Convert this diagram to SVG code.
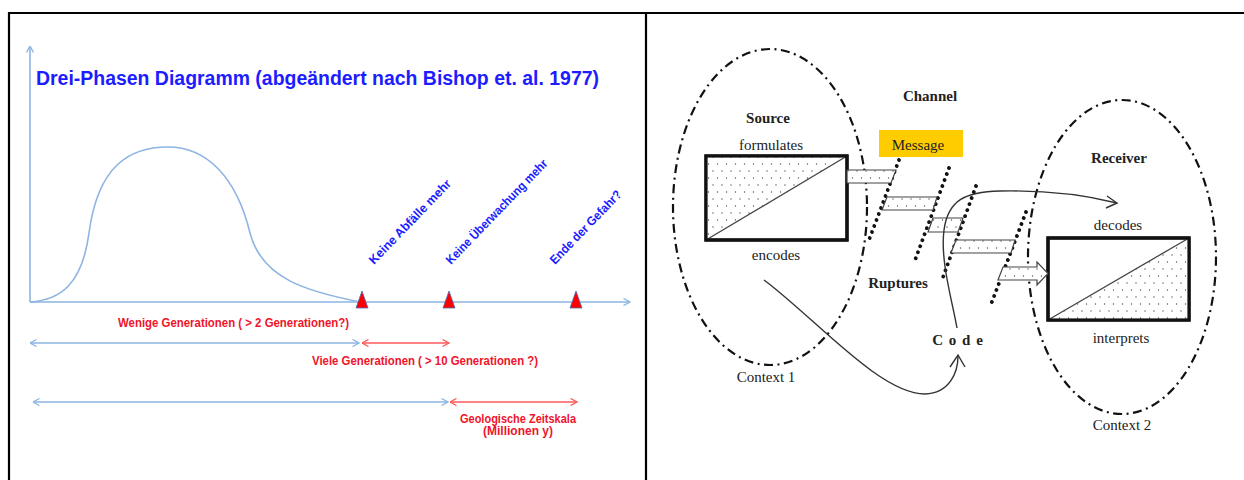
<svg xmlns="http://www.w3.org/2000/svg" width="1244" height="480" viewBox="0 0 1244 480">
<style>
.frame{stroke:#000;stroke-width:2.2;fill:none}
.ax{stroke:#8db4e2;stroke-width:1.6;fill:none}
.rd{stroke:#ff5a5a;stroke-width:1.4;fill:none}
.cal{font-family:"Liberation Sans",Arial,sans-serif;font-weight:bold}
.blue{fill:#1c1cff}
.red{fill:#f0142a}
.tm{font-family:"Liberation Serif","Times New Roman",serif;fill:#222;font-size:15px}
.tb{font-weight:bold}
.ell{stroke:#111;stroke-width:2.2;fill:none;stroke-dasharray:9 4.5 2 4.5}
.box{stroke:#111;stroke-width:3.2;fill:#fff}
.diag{stroke:#444;stroke-width:1.3}
.bar{stroke:#444;stroke-width:1.2;fill:url(#dots)}
.rup{stroke:#111;stroke-width:3.8;stroke-linecap:round;stroke-dasharray:0.01 6.4;fill:none}
.cv{stroke:#333;stroke-width:1.4;fill:none}
.tri{fill:#ff0000;stroke:#4a6fb5;stroke-width:0.8}
</style>
<defs>
<pattern id="dots" width="9" height="14" patternUnits="userSpaceOnUse">
<rect width="9" height="14" fill="#fff"/>
<circle cx="2" cy="3" r="0.7" fill="#555"/>
<circle cx="6.5" cy="10" r="0.7" fill="#555"/>
</pattern>
<marker id="ab" viewBox="0 0 8 8" refX="7.5" refY="4" markerWidth="8" markerHeight="8" markerUnits="userSpaceOnUse" orient="auto-start-reverse">
<path d="M1,0.5 L7.5,4 L1,7.5" fill="none" stroke="#8db4e2" stroke-width="1.3"/>
</marker>
<marker id="ar" viewBox="0 0 8 8" refX="7.5" refY="4" markerWidth="8" markerHeight="8" markerUnits="userSpaceOnUse" orient="auto-start-reverse">
<path d="M1,0.5 L7.5,4 L1,7.5" fill="none" stroke="#ff5a5a" stroke-width="1.3"/>
</marker>
</defs>
<rect width="1244" height="480" fill="#fff"/>
<g id="frame">
<path class="frame" d="M9,480 V13 H1244 M646,13 V480"/>
</g>

<g id="left-panel">
<g id="axes">
<line class="ax" x1="30" y1="302" x2="30" y2="46" marker-end="url(#ab)"/>
<line class="ax" x1="30" y1="302" x2="630" y2="302" marker-end="url(#ab)"/>
</g>
<text id="title" class="cal blue" x="36" y="85" font-size="19.5" textLength="563" lengthAdjust="spacingAndGlyphs">Drei-Phasen Diagramm (abgeändert nach Bishop et. al. 1977)</text>
<path id="curve" class="ax" d="M30,302 C60,300 82,285 89,233 C98,165 130,147 168,147 C205,147 236,175 250,233 C262,280 310,292 360,302"/>
<g id="markers">
<polygon class="tri" points="356,308 362,291 368,308"/>
<polygon class="tri" points="443,308 449,291 455,308"/>
<polygon class="tri" points="570,308 576,291 582,308"/>
</g>
<g id="milestones" class="cal blue" font-size="12.5">
<text transform="translate(374,265) rotate(-46)" textLength="112" lengthAdjust="spacingAndGlyphs">Keine Abfälle mehr</text>
<text transform="translate(451,265) rotate(-46)" textLength="140" lengthAdjust="spacingAndGlyphs">Keine Überwachung mehr</text>
<text transform="translate(555,265) rotate(-46)" textLength="97" lengthAdjust="spacingAndGlyphs">Ende der Gefahr?</text>
</g>
<g id="spans">
<line class="ax" stroke-width="1.3" x1="30" y1="343" x2="359" y2="343" marker-start="url(#ab)" marker-end="url(#ab)"/>
<line class="rd" x1="362" y1="343" x2="449" y2="343" marker-start="url(#ar)" marker-end="url(#ar)"/>
<line class="ax" stroke-width="1.3" x1="33" y1="402" x2="448" y2="402" marker-start="url(#ab)" marker-end="url(#ab)"/>
<line class="rd" x1="450" y1="402" x2="577" y2="402" marker-start="url(#ar)" marker-end="url(#ar)"/>
</g>
<g id="span-labels" class="cal red" font-size="12.5">
<text x="118" y="327" textLength="231" lengthAdjust="spacingAndGlyphs">Wenige Generationen ( &gt; 2 Generationen?)</text>
<text x="312" y="365" textLength="226" lengthAdjust="spacingAndGlyphs">Viele Generationen ( &gt; 10 Generationen ?)</text>
<text x="518" y="423" text-anchor="middle" textLength="116" lengthAdjust="spacingAndGlyphs">Geologische Zeitskala</text>
<text x="518" y="435" text-anchor="middle" textLength="70" lengthAdjust="spacingAndGlyphs">(Millionen y)</text>
</g>
</g>

<g id="right-panel">
<g id="context1">
<ellipse class="ell" cx="770" cy="207" rx="97" ry="158"/>
<text class="tm" x="766" y="382" text-anchor="middle" font-size="14.5">Context 1</text>
</g>
<g id="context2">
<ellipse class="ell" cx="1122" cy="257" rx="94" ry="157"/>
<text class="tm" x="1122" y="430" text-anchor="middle" font-size="14.5">Context 2</text>
</g>
<g id="source">
<rect class="box" x="706" y="156" width="141" height="84"/>
<polygon points="706,156 847,156 706,240" fill="url(#dots)"/>
<line class="diag" x1="706" y1="240" x2="847" y2="156"/>
<rect x="706" y="156" width="141" height="84" fill="none" stroke="#111" stroke-width="3.2"/>
<text class="tm tb" x="768" y="123" text-anchor="middle">Source</text>
<text class="tm" x="771" y="150" text-anchor="middle">formulates</text>
<text class="tm" x="776" y="260" text-anchor="middle">encodes</text>
</g>
<g id="channel">
<text class="tm tb" x="930" y="101" text-anchor="middle">Channel</text>
</g>
<g id="message">
<rect x="879" y="130" width="84" height="27" fill="#ffcc00"/>
<text class="tm" x="918" y="150" text-anchor="middle">Message</text>
</g>
<g id="receiver">
<rect class="box" x="1048" y="238" width="141" height="82"/>
<polygon points="1189,238 1189,320 1048,320" fill="url(#dots)"/>
<line class="diag" x1="1048" y1="320" x2="1189" y2="238"/>
<rect x="1048" y="238" width="141" height="82" fill="none" stroke="#111" stroke-width="3.2"/>
<text class="tm tb" x="1119" y="163" text-anchor="middle">Receiver</text>
<text class="tm" x="1118" y="230" text-anchor="middle">decodes</text>
<text class="tm" x="1121" y="343" text-anchor="middle">interprets</text>
</g>
<g id="ruptures">
<line class="rup" x1="899" y1="160" x2="869" y2="240"/>
<line class="rup" x1="949" y1="168" x2="914" y2="263"/>
<line class="rup" x1="976" y1="186" x2="942" y2="280"/>
<line class="rup" x1="1026" y1="212" x2="990" y2="307"/>
<text class="tm tb" x="898" y="288" text-anchor="middle" font-size="15.5">Ruptures</text>
</g>
<g id="code">
<text class="tm tb" x="958" y="345" text-anchor="middle" font-size="15" letter-spacing="1">C o d e</text>
</g>
<g id="connectors">
<polygon class="bar" points="847,170 896,170 891,183 847,183"/>
<polygon class="bar" points="887,197 937,197 933,210 882,210"/>
<polygon class="bar" points="933,218 963,218 958,232 928,232"/>
<polygon class="bar" points="956,240 1015,240 1011,253 951,253"/>
<polygon class="bar" points="1003,267 1037,267 1037,262 1048,273.5 1037,285 1037,280 998,280"/>
<path class="cv" d="M764,280 C815,318 880,394 925,394 C950,393 958,372 958,356"/>
<path class="cv" d="M950,367 L958,355 L965,367"/>
<path class="cv" d="M957,328 C952,300 940,260 944,230 C948,200 965,192 1000,191 C1050,190 1085,195 1117,203"/>
<path class="cv" d="M1107,196 L1117,203 L1106,208"/>
</g>
</g>
</svg>
